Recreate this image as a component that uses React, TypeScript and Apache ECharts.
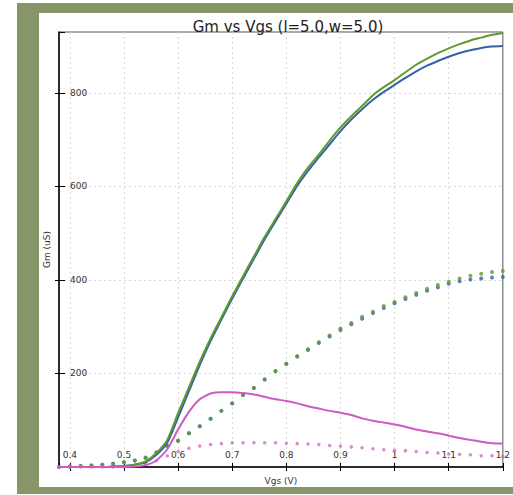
import React, { useEffect, useRef } from "react";
import * as echarts from "echarts";

const vgs = [0.38,0.40,0.42,0.44,0.46,0.48,0.50,0.52,0.54,0.56,0.58,0.60,0.62,0.64,0.66,0.68,0.70,0.72,0.74,0.76,0.78,0.80,0.82,0.84,0.86,0.88,0.90,0.92,0.94,0.96,0.98,1.00,1.02,1.04,1.06,1.08,1.10,1.12,1.14,1.16,1.18,1.20];

const gmGreenLine = [0,0,0,0,0,1,2,5,12,30,58,115,170,225,275,320,365,408,450,492,530,568,607,640,668,698,726,750,772,795,812,827,844,860,873,885,895,904,912,918,924,928];
const gmBlueLine = [0,0,0,0,0,1,2,5,10,26,52,106,162,218,269,315,360,403,445,487,525,563,601,633,662,690,718,743,765,785,802,817,832,846,858,868,877,885,891,896,899,900];
const gmGreenDots = [0,1,2,3,5,7,10,14,20,31,45,56,72,87,103,120,136,154,169,187,205,221,237,252,267,281,296,308,321,332,344,353,363,372,381,389,396,403,409,413,417,419];
const gmBlueDots = [0,1,2,3,5,7,10,14,20,31,45,56,72,87,103,120,136,154,169,187,205,220,236,250,265,279,293,305,317,329,340,350,359,368,377,384,392,397,401,403,405,406];
const magLine = [0,0,0,0,0,0,0,1,4,14,38,80,118,145,157,160,160,158,155,150,145,141,136,130,125,120,116,111,104,99,95,91,86,80,76,72,67,62,58,54,51,50];
const magDots = [0,0,0,0,0,0,0,3,7,14,24,33,40,45,48,50,52,52,52,52,52,51,50,49,48,46,45,43,41,39,37,36,35,33,31,30,28,27,26,24,24,23];

const titleText = "Gm vs Vgs (l=5.0,w=5.0)";
const xName = "Vgs (V)";
const yName = "Gm (uS)";

const pairs = (ys: number[]) => vgs.map((x, i) => [x, ys[i]]);

export default function App() {
  const ref = useRef<HTMLDivElement>(null);
  useEffect(() => {
    if (!ref.current) return;
    const chart = echarts.init(ref.current, null, { renderer: "svg" });
    const font = "DejaVu Sans";
    const gridL = 59, gridT = 32, gridR = 6, gridB = 28;
    const xBase = {
      type: "value" as const,
      min: 0.38,
      max: 1.2,
      splitNumber: 8,
      position: "bottom" as const,
    };
    const yBase = {
      type: "value" as const,
      min: 0,
      max: 930,
      interval: 200,
      position: "left" as const,
    };
    const grid = { show: true, lineStyle: { color: "#d8d8d8", type: [2, 3], width: 1 }, showMinLine: false, showMaxLine: false };
    chart.setOption({
      animation: false,
      backgroundColor: "#ffffff",
      textStyle: { fontFamily: font },
      title: {
        text: titleText,
        left: 283,
        top: 14,
        textAlign: "center",
        textStyle: { fontSize: 15, fontWeight: "normal", color: "#222", fontFamily: font },
      },
      graphic: [
        { type: "rect", z: -10, shape: { x: 17, y: 3, width: 500, height: 491 }, style: { fill: "#879669" } },
        { type: "rect", z: -9, shape: { x: 39, y: 13, width: 480, height: 474 }, style: { fill: "#ffffff" } },
      ],
      grid: {
        left: gridL, top: gridT, right: gridR, bottom: gridB,
        show: true, borderColor: "#555", borderWidth: 1, backgroundColor: "transparent",
      },
      xAxis: [
        {
          ...xBase,
          name: xName,
          nameLocation: "middle",
          nameGap: 9,
          nameTextStyle: { fontSize: 9, color: "#333", fontFamily: font },
          axisLine: { show: true, lineStyle: { color: "#000", width: 1.5 } },
          axisTick: { show: true, inside: false, length: 4, lineStyle: { color: "#000" } },
          axisLabel: {
            inside: true, margin: 8, fontSize: 9, color: "#333", fontFamily: font,
            showMinLabel: false,
          },
          splitLine: grid,
        },
        {
          ...xBase,
          axisLine: { show: false },
          axisTick: { show: true, inside: true, length: 4, lineStyle: { color: "#000" } },
          axisLabel: { show: false },
          splitLine: { show: false },
        },
      ],
      yAxis: [
        {
          ...yBase,
          name: yName,
          nameLocation: "middle",
          nameGap: 5,
          nameRotate: 90,
          nameTextStyle: { fontSize: 9, color: "#333", fontFamily: font },
          axisLine: { show: true, lineStyle: { color: "#000", width: 1.5 } },
          axisTick: { show: true, inside: false, length: 4, lineStyle: { color: "#000" } },
          axisLabel: {
            inside: true, margin: 11, fontSize: 9, color: "#333", fontFamily: font,
            showMinLabel: false, showMaxLabel: false,
          },
          splitLine: grid,
        },
        {
          ...yBase,
          axisLine: { show: false },
          axisTick: { show: true, inside: true, length: 6, lineStyle: { color: "#000" } },
          axisLabel: { show: false },
          splitLine: { show: false },
        },
      ],
      series: [
        {
          type: "line", data: pairs(gmBlueLine), showSymbol: false, smooth: 0.2,
          lineStyle: { color: "#3562a8", width: 2 }, itemStyle: { color: "#3562a8" },
        },
        {
          type: "line", data: pairs(gmGreenLine), showSymbol: false, smooth: 0.2,
          lineStyle: { color: "#5e9a2c", width: 2 }, itemStyle: { color: "#5e9a2c" },
        },
        {
          type: "line", data: pairs(magLine), showSymbol: false, smooth: 0.2,
          lineStyle: { color: "#cc5cbf", width: 2 }, itemStyle: { color: "#cc5cbf" },
        },
        {
          type: "scatter", data: pairs(gmBlueDots), symbolSize: 4,
          itemStyle: { color: "#3562a8" },
        },
        {
          type: "scatter", data: pairs(gmGreenDots), symbolSize: 4,
          itemStyle: { color: "#5e9a2c" },
        },
        {
          type: "scatter", data: pairs(magDots), symbolSize: 3.5,
          itemStyle: { color: "#d46cc8" },
        },
      ],
    });
    return () => chart.dispose();
  }, []);
  return (
    <div
      ref={ref}
      style={{ position: "fixed", left: 0, top: 0, width: 513, height: 495 }}
    />
  );
}
